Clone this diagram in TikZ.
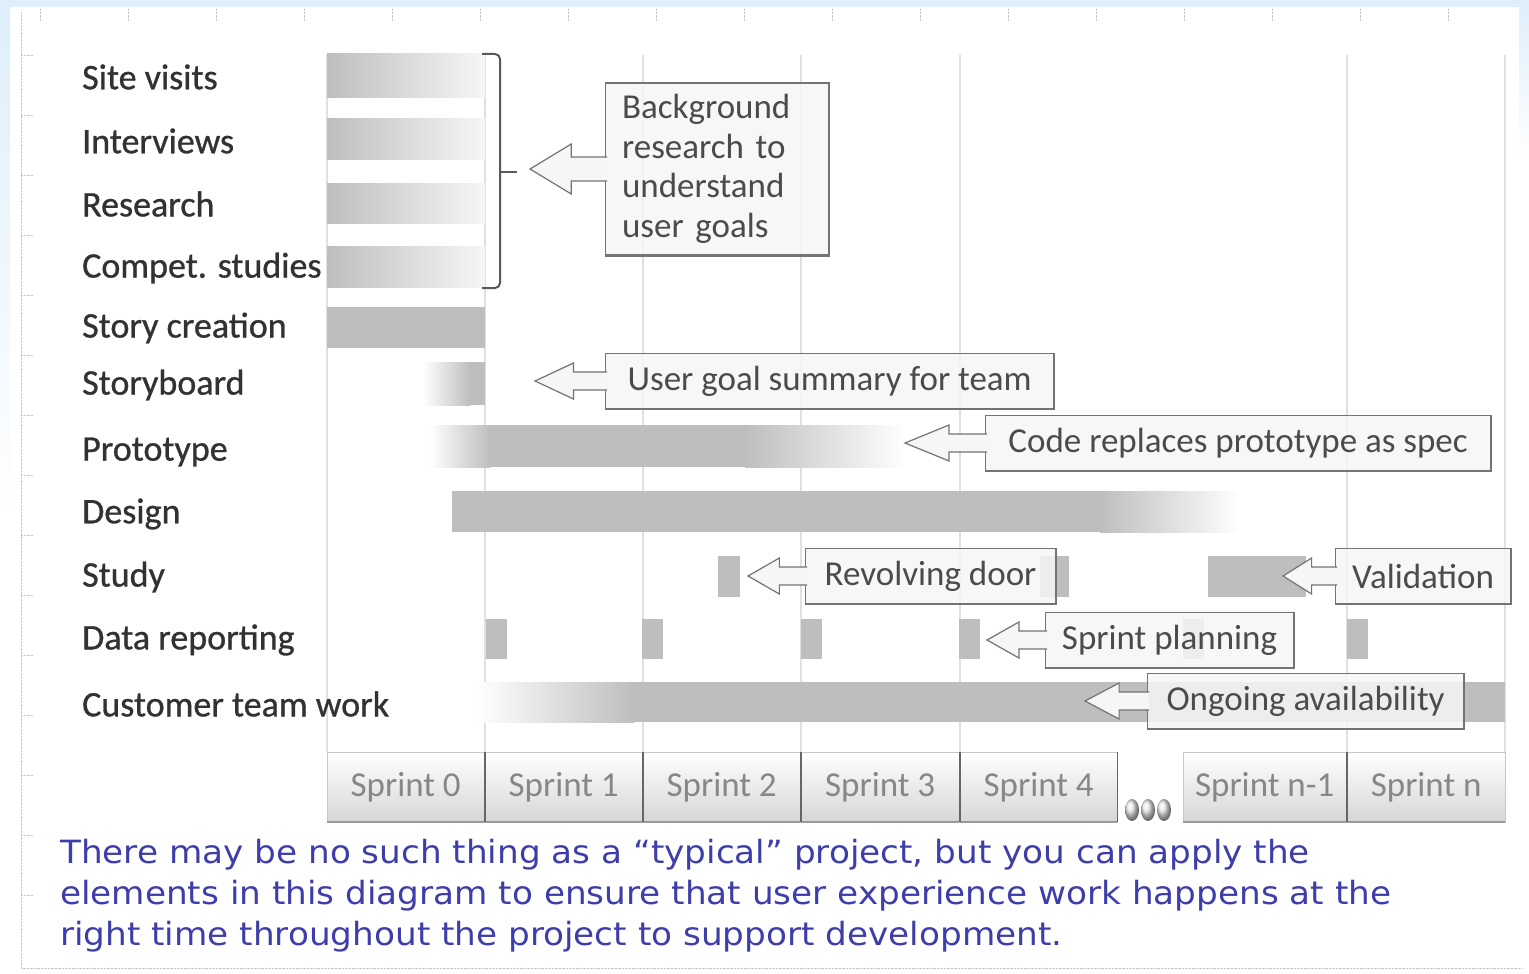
\documentclass[tikz,border=0pt]{standalone}
\usepackage{fontspec}
\setmainfont{Carlito}
\newfontfamily\lblfont[FakeBold=0.8]{Carlito}
\newfontfamily\capfont[FakeStretch=1.07]{DejaVu Sans}
\usetikzlibrary{positioning,calc}

\definecolor{bargray}{RGB}{190,190,190}
\definecolor{barpale}{RGB}{246,246,246}
\definecolor{gridgray}{RGB}{224,224,224}
\definecolor{boxfill}{RGB}{246,246,246}
\definecolor{boxline}{RGB}{115,115,115}
\definecolor{calltext}{RGB}{75,75,75}
\definecolor{lbltext}{RGB}{50,50,50}
\definecolor{sprinttext}{RGB}{135,135,135}
\definecolor{capblue}{RGB}{62,62,170}
\definecolor{edgeblue}{RGB}{222,238,250}

\begin{document}
\begin{tikzpicture}[x=1pt, y=-1pt,
	row label/.style={anchor=west, inner sep=0pt, text=lbltext, font=\lblfont\fontsize{36}{40}\selectfont},
	sprint box/.style={draw=black!22, top color=white, bottom color=black!16, minimum height=70pt, inner sep=0pt, anchor=north west, text=sprinttext, font=\fontsize{35}{40}\selectfont},
	call box/.style={draw=boxline, fill=boxfill, fill opacity=0.85, text opacity=1, line width=1.2pt, minimum height=55pt, inner xsep=15pt, anchor=west, text=calltext, font=\fontsize{35}{40}\selectfont},
	box edge/.style={draw=black!55, line width=2.2pt},
	call arrow/.style={draw=boxline, fill=boxfill, line width=1.2pt, line join=miter},
	bar/.style={fill=bargray},
	grid line/.style={draw=gridgray, line width=1.5pt}]

	\useasboundingbox (0,0) rectangle (1529,974);

	% page and ruler
	\fill[white] (0,0) rectangle (1529,974);
	\fill[edgeblue] (0,0) rectangle (1529,7);
	\shade[top color=edgeblue, bottom color=white] (0,0) rectangle (10,520);
	\shade[top color=edgeblue, bottom color=white] (1519,0) rectangle (1529,160);
	\draw[black!22, densely dotted] (21,12) -- (21,968) -- (1522,968);
	\foreach \x in {40,128,216,304,392,480,568,656,744,832,920,1008,1096,1184,1272,1360,1448}
		\draw[black!22, densely dotted] (\x,9) -- (\x,21);
	\foreach \y in {55,115,175,235,295,355,415,475,535,595,655,715,775,835,895}
		\draw[black!22, densely dotted] (21,\y) -- (33,\y);

	% sprint grid
	\foreach \x in {327,485,643,801,960,1347,1505}
		\draw[grid line] (\x,55) -- (\x,752);

	% research bars
	\foreach \t/\b in {54/97, 118/159, 183/223, 246/287}
		\shade[left color=bargray, right color=barpale] (327,\t) rectangle (485,\b);
	\fill[bar] (327,307) rectangle (485,348);
	\shade[left color=white, right color=bargray] (423,362) rectangle (470,405);
	\fill[bar] (470,362) rectangle (485,405);

	% prototype and design
	\shade[left color=white, right color=bargray] (430,425) rectangle (490,467);
	\fill[bar] (489,425) rectangle (746,467);
	\shade[left color=bargray, right color=white] (745,425) rectangle (905,467);
	\fill[bar] (452,491) rectangle (1101,532);
	\shade[left color=bargray, right color=white] (1100,491) rectangle (1240,532);

	% study
	\fill[bar] (718,556) rectangle (740,597);
	\fill[bar] (1040,556) rectangle (1069,597);
	\fill[bar] (1208,556) rectangle (1306,597);

	% data reporting
	\foreach \x in {486,642,801,959,1183,1347}
		\fill[bar] (\x,619) rectangle ++(21,40);

	% customer team work
	\shade[left color=white, right color=bargray] (477,682) rectangle (634,722);
	\fill[bar] (633,682) rectangle (1505,722);

	% bracket round the research rows
	\draw[black!65, line width=2pt, rounded corners=5pt] (482,54) -- (500,54) -- (500,288) -- (482,288);
	\draw[black!65, line width=2pt] (500,172) -- (517,172);

	% callouts
	\node[call box, minimum width=223pt, minimum height=172pt, text width=190pt, inner xsep=16pt, align=left, font=\fontsize{35}{39.5}\selectfont] (bg) at (605,169) {Background\\research to\\understand\\user goals};
	\node[call box, minimum width=448pt] (ugs) at (605,381) {User goal summary for team};
	\node[call box, minimum width=505pt] (code) at (985,443) {Code replaces prototype as spec};
	\node[call box, minimum width=250pt] (rev) at (805,576) {Revolving door};
	\node[call box, minimum width=175pt] (val) at (1335,576) {Validation};
	\node[call box, minimum width=248pt] (spl) at (1045,640) {Sprint planning};
	\node[call box, minimum width=316pt] (ong) at (1147,701) {Ongoing availability};

	\coordinate (bg-tip) at (530,169);
	\coordinate (ugs-tip) at (535,381);
	\coordinate (code-tip) at (905,443);
	\coordinate (rev-tip) at (748,576);
	\coordinate (val-tip) at (1283,576);
	\coordinate (spl-tip) at (987,640);
	\coordinate (ong-tip) at (1085,701);

	\foreach \n/\s/\h in {bg/12/25, ugs/9/18, code/9/18, rev/9/18, val/9/18, spl/9/18, ong/9/18} {
		\draw[box edge] (\n.north east) -- (\n.south east) -- (\n.south west);
		\coordinate (\n-neck) at ($(\n-tip)!0.55!(\n.west)$);
		\draw[call arrow] ([xshift=2, yshift=\s]\n.west) -- ([yshift=\s]\n-neck) -- ([yshift=\h]\n-neck) -- (\n-tip)
			-- ([yshift=-\h]\n-neck) -- ([yshift=-\s]\n-neck) -- ([xshift=2, yshift=-\s]\n.west);
	}

	% sprints
	\node[sprint box, minimum width=157pt] (s0) at (327,752) {Sprint 0};
	\node[sprint box, minimum width=157pt] (s1) at (485,752) {Sprint 1};
	\node[sprint box, minimum width=157pt] (s2) at (643,752) {Sprint 2};
	\node[sprint box, minimum width=158pt] (s3) at (801,752) {Sprint 3};
	\node[sprint box, minimum width=157pt] (s4) at (960,752) {Sprint 4};
	\node[sprint box, minimum width=163pt] (sm) at (1183,752) {Sprint n-1};
	\node[sprint box, minimum width=158pt] (sn) at (1347,752) {Sprint n};
	\foreach \n in {s0,s1,s2,s3,s4,sm,sn}
		\draw[black!40, line width=2pt] (\n.south west) -- (\n.south east);
	\foreach \n in {s1,s2,s3,s4,sn}
		\draw[black!60, line width=1.8pt] (\n.north west) -- (\n.south west);
	\draw[black!60, line width=1.8pt] (s4.north east) -- (s4.south east);
	\foreach \x in {1132,1148,1164}
		\shade[ball color=black!8] (\x,810) ellipse (7 and 11);

	% activity labels
	\foreach \y/\n/\t in {77/site/Site visits, 141/intv/Interviews, 204/res/Research, 268/comp/Compet. studies, 328/story/Story creation, 385/board/Storyboard, 452/proto/Prototype, 514/design/Design, 577/study/Study, 640/data/Data reporting, 704/cust/Customer team work}
		\node[row label] (\n) at (82,\y) {\t};

	% caption
	\node[anchor=north west, inner sep=0pt, align=left, text=capblue, font=\capfont\fontsize{32}{41}\selectfont] (caption) at (60,839) {There may be no such thing as a “typical” project, but you can apply the\\elements in this diagram to ensure that user experience work happens at the\\right time throughout the project to support development.};

\end{tikzpicture}
\end{document}
